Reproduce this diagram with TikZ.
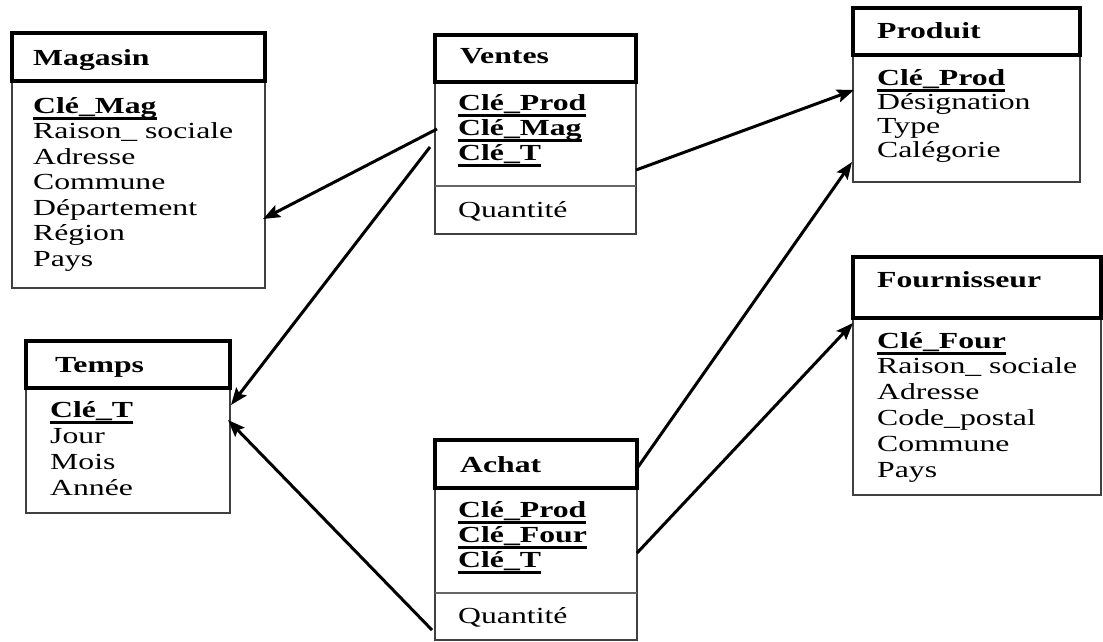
\documentclass[tikz,border=0pt]{standalone}
\usepackage{fontspec}
\setmainfont{Liberation Serif}[FakeStretch=1.38]
\usetikzlibrary{calc,arrows.meta}

% underlined bold key attribute
\newsavebox\keybox
\newcommand\keyfield[1]{\sbox\keybox{\bfseries #1}\rlap{\rule[-7pt]{\wd\keybox}{2.8pt}}\usebox\keybox}

\tikzset{
  tbox/.style={rectangle, inner sep=0pt, outer sep=0pt, anchor=north west},
  hdr/.style={tbox, draw=black, line width=3.6pt},
  tbody/.style={tbox, draw=black!75, line width=1.9pt},
  divider/.style={draw=black!60, line width=1.6pt},
  htext/.style={anchor=base west, inner sep=0pt, font=\fontsize{23}{26}\selectfont\bfseries},
  attr/.style={anchor=base west, inner sep=0pt, font=\fontsize{23}{26}\selectfont},
  conn/.style={line width=3pt, -{Stealth[length=17pt, width=13pt, inset=3pt]}}
}

\begin{document}
\begin{tikzpicture}[x=1pt, y=-1pt]
\useasboundingbox (0,0) rectangle (1103,641);
\fill[white] (0,0) rectangle (1103,641);

% ---------- Magasin ----------
\node[tbody, minimum width=253, minimum height=207] (magB) at (12,81) {};
\node[hdr, minimum width=253, minimum height=48] (magH) at (12,33) {};
\node[htext] (magN) at (33,65) {Magasin};
\foreach \t [count=\i from 0] in {\keyfield{Clé\_Mag}, Raison\_ sociale, Adresse, Commune, Département, Région, Pays}
  \node[attr] (mag-\i) at (33,113+25.5*\i) {\t};

% ---------- Ventes ----------
\node[tbody, minimum width=201, minimum height=152] (venB) at (435,82) {};
\node[hdr, minimum width=201, minimum height=47] (venH) at (435,35) {};
\draw[divider] ($(venB.north west)+(0,104)$) -- ($(venB.north east)+(0,104)$);
\node[htext] (venN) at (460,63) {Ventes};
\foreach \t [count=\i from 0] in {\keyfield{Clé\_Prod}, \keyfield{Clé\_Mag}, \keyfield{Clé\_T}}
  \node[attr] (ven-\i) at (458,110+25*\i) {\t};
\node[attr] (venQ) at (458,217) {Quantité};

% ---------- Produit ----------
\node[tbody, minimum width=227, minimum height=127] (proB) at (853,55) {};
\node[hdr, minimum width=227, minimum height=47] (proH) at (853,8) {};
\node[htext] (proN) at (877,38) {Produit};
\foreach \t [count=\i from 0] in {\keyfield{Clé\_Prod}, Désignation, Type, Calégorie}
  \node[attr] (pro-\i) at (877,85+24.3*\i) {\t};

% ---------- Temps ----------
\node[tbody, minimum width=204, minimum height=125] (temB) at (26,388) {};
\node[hdr, minimum width=204, minimum height=47] (temH) at (26,341) {};
\node[htext] (temN) at (55,372) {Temps};
\foreach \t [count=\i from 0] in {\keyfield{Clé\_T}, Jour, Mois, Année}
  \node[attr] (tem-\i) at (50,417+26*\i) {\t};

% ---------- Achat ----------
\node[tbody, minimum width=202, minimum height=152] (achB) at (435,488) {};
\node[hdr, minimum width=202, minimum height=48] (achH) at (435,440) {};
\draw[divider] ($(achB.north west)+(0,105)$) -- ($(achB.north east)+(0,105)$);
\node[htext] (achN) at (460,472) {Achat};
\foreach \t [count=\i from 0] in {\keyfield{Clé\_Prod}, \keyfield{Clé\_Four}, \keyfield{Clé\_T}}
  \node[attr] (ach-\i) at (458,517+25*\i) {\t};
\node[attr] (achQ) at (458,623) {Quantité};

% ---------- Fournisseur ----------
\node[tbody, minimum width=248, minimum height=177] (fouB) at (853,318) {};
\node[hdr, minimum width=248, minimum height=61] (fouH) at (853,257) {};
\node[htext] (fouN) at (877,287) {Fournisseur};
\foreach \t [count=\i from 0] in {\keyfield{Clé\_Four}, Raison\_ sociale, Adresse, Code\_postal, Commune, Pays}
  \node[attr] (fou-\i) at (877,348+25.8*\i) {\t};

% ---------- links ----------
\draw[conn] ($(venB.north west)+(2,47)$) -- ($(magB.north east)+(-2,138)$);
\draw[conn] ($(venB.north west)+(-5,65)$) -- ($(temB.north east)+(1,17)$);
\draw[conn] ($(venB.north east)+(0,88)$) -- ($(proB.north west)+(1,35)$);
\draw[conn] ($(achH.north east)+(1,27)$) -- ($(proB.north west)+(-1,107)$);
\draw[conn] ($(achB.north east)+(0,65)$) -- ($(fouB.north west)+(0,5)$);
\draw[conn] ($(achB.south west)+(-3,-10)$) -- ($(temB.north east)+(-2,32)$);
\end{tikzpicture}
\end{document}
